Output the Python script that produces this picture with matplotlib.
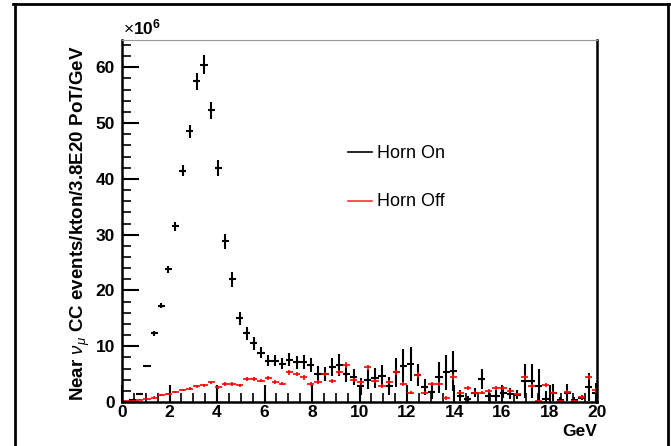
import numpy as np
import matplotlib
matplotlib.use("Agg")
import matplotlib.pyplot as plt
from matplotlib.lines import Line2D

plt.rcParams['font.family'] = ['Liberation Sans', 'DejaVu Sans']
plt.rcParams['mathtext.fontset'] = 'custom'
plt.rcParams['mathtext.rm'] = 'Liberation Sans'
plt.rcParams['mathtext.bf'] = 'Liberation Sans:bold'
plt.rcParams['mathtext.it'] = 'Liberation Sans:italic'

# histogram binning (GeV)
bin_lo = 0.0
bin_width = 0.3

# Horn On, units of 1e6
horn_on = [0.0, 0.3, 1.5, 6.5, 12.3, 17.3, 23.8, 31.5, 41.5, 48.5,
           57.5, 60.5, 52.3, 42.0, 28.8, 22.0, 15.0, 12.3, 10.5, 8.8,
           7.4, 7.4, 6.9, 7.6, 7.1, 7.2, 6.6, 5.1, 5.0, 6.2,
           6.6, 5.1, 4.5, 2.8, 4.0, 4.3, 4.7, 2.9, 5.3, 6.5,
           6.8, 4.8, 2.7, 1.8, 4.4, 5.3, 5.6, 1.1, 0.5, 1.7,
           4.1, 1.0, 1.1, 1.7, 1.5, 1.3, 3.8, 3.8, 2.9, 0.5,
           1.7, 0.4, 1.7, 0.4, 0.8, 2.7, 1.7]
horn_on_err = [0.1, 0.2, 0.2, 0.2, 0.4, 0.5, 0.6, 0.8, 1.0, 1.2,
               1.5, 1.7, 1.5, 1.4, 1.3, 1.3, 1.2, 1.1, 1.1, 1.0,
               1.0, 1.0, 1.0, 1.1, 1.2, 1.2, 1.3, 1.3, 1.3, 1.6,
               2.0, 1.5, 1.4, 1.5, 1.7, 1.8, 2.0, 1.6, 2.6, 3.0,
               3.0, 2.0, 1.5, 1.2, 2.8, 3.2, 3.6, 1.0, 0.6, 0.8,
               1.8, 0.8, 1.0, 1.0, 1.0, 0.8, 3.0, 3.0, 3.0, 1.5,
               1.5, 0.5, 1.5, 0.5, 0.5, 2.5, 1.7]

# Horn Off, units of 1e6
horn_off = [0.1, 0.2, 0.4, 0.6, 0.8, 1.2, 1.5, 1.8, 2.2, 2.4,
            2.8, 3.0, 3.5, 2.6, 3.2, 3.2, 3.0, 4.1, 4.1, 3.8,
            4.3, 3.6, 3.3, 5.3, 5.0, 4.4, 3.2, 3.6, 5.0, 3.8,
            5.3, 6.6, 3.9, 3.5, 6.2, 3.8, 2.9, 3.6, 5.3, 3.2,
            1.7, 4.8, 1.7, 3.2, 3.2, 0.7, 4.5, 1.7, 2.5, 1.7,
            1.7, 2.0, 2.5, 2.5, 2.0, 1.4, 4.4, 2.9, 0.2, 3.0,
            1.7, 0.2, 1.8, 0.2, 0.9, 4.4, 2.1]
horn_off_err = [0.1, 0.1, 0.1, 0.1, 0.2, 0.2, 0.2, 0.2, 0.2, 0.2,
                0.3, 0.3, 0.3, 0.3, 0.3, 0.3, 0.3, 0.3, 0.3, 0.3,
                0.3, 0.3, 0.3, 0.4, 0.4, 0.4, 0.3, 0.4, 0.4, 0.4,
                0.4, 0.5, 0.4, 0.4, 0.5, 0.4, 0.4, 0.4, 0.5, 0.4,
                0.3, 0.5, 0.3, 0.4, 0.4, 0.3, 0.5, 0.3, 0.4, 0.3,
                0.3, 0.4, 0.4, 0.4, 0.4, 0.3, 0.5, 0.4, 0.2, 0.4,
                0.3, 0.2, 0.4, 0.2, 0.3, 0.5, 0.4]

centers = bin_lo + bin_width * (np.arange(len(horn_on)) + 0.5)

fig = plt.figure(figsize=(6.71, 4.46), dpi=100)
ax = fig.add_axes([122 / 671, 1 - 402 / 446, 475 / 671, 362 / 446])

ax.errorbar(centers, horn_on, xerr=bin_width / 2, yerr=horn_on_err,
            fmt='none', ecolor='black', elinewidth=1.5, capsize=0)
ax.errorbar(centers, horn_off, xerr=bin_width / 2, yerr=horn_off_err,
            fmt='none', ecolor='#ff0000', elinewidth=1.2, capsize=0)

ax.set_xlim(0, 20)
ax.set_ylim(0, 64.9)
ax.set_xticks(np.arange(0, 21, 2))
ax.set_xticks(np.arange(0, 20.01, 0.5), minor=True)
ax.set_yticks(np.arange(0, 61, 10))
ax.set_yticks(np.arange(0, 65, 2), minor=True)
ax.tick_params(which='both', direction='in', top=False, right=False)
ax.tick_params(which='major', length=12, width=1.5)
ax.tick_params(which='minor', length=6.5, width=1.2)
ax.tick_params(axis='x', which='major', pad=2)
ax.tick_params(axis='y', which='major', pad=5)
for lab in ax.get_xticklabels() + ax.get_yticklabels():
    lab.set_fontweight('bold')
    lab.set_fontsize(12.5)

ax.spines['left'].set_linewidth(1.8)
ax.spines['bottom'].set_linewidth(1.8)
ax.spines['right'].set_linewidth(1.8)
ax.spines['top'].set_linewidth(0.8)
ax.spines['top'].set_color('#999999')

ax.text(0.002, 1.008, r"$\times\mathbf{10^{6}}$", transform=ax.transAxes,
        ha='left', va='bottom', fontsize=12.5)

fig.text(597 / 671, 1 - 432 / 446, "GeV", ha='right', va='center',
         fontsize=12.5, fontweight='bold')
fig.text(80 / 671, 1 - 223 / 446,
         r"Near $\nu_{\mu}$ CC events/kton/3.8E20 PoT/GeV",
         rotation=90, ha='center', va='center', fontsize=13.5, fontweight='bold')

# legend
fig.add_artist(Line2D([348 / 671, 372 / 671], [1 - 152 / 446] * 2,
                      color='black', lw=1.2))
fig.add_artist(Line2D([348 / 671, 372 / 671], [1 - 201 / 446] * 2,
                      color='#ff3333', lw=1.2))
fig.text(377 / 671, 1 - 153 / 446, "Horn On", ha='left', va='center', fontsize=13)
fig.text(377 / 671, 1 - 202 / 446, "Horn Off", ha='left', va='center', fontsize=13)

# outer frame
fig.add_artist(Line2D([13 / 671, 669 / 671], [1 - 4 / 446] * 2, color='black', lw=2))
fig.add_artist(Line2D([15 / 671] * 2, [0, 1 - 4 / 446], color='black', lw=2))
fig.add_artist(Line2D([668 / 671] * 2, [0, 1 - 4 / 446], color='black', lw=2))

fig.savefig("out.png", dpi=100)
